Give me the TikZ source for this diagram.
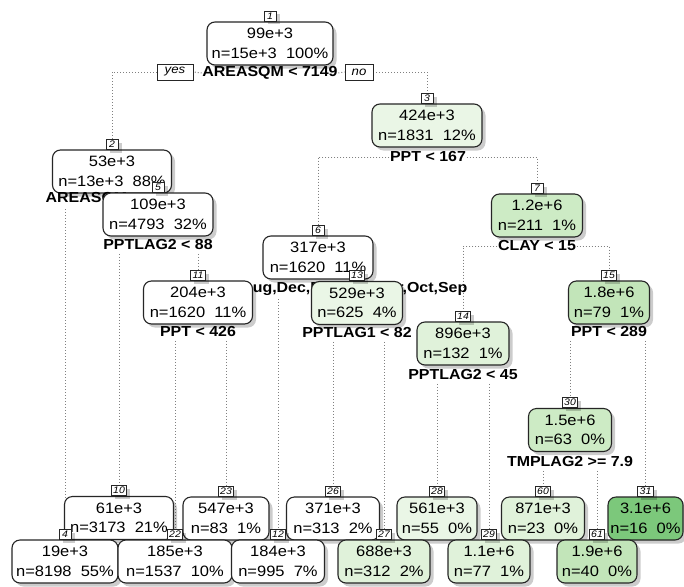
\documentclass[tikz,border=0pt]{standalone}
\usepackage{fontspec}
\setmainfont{Liberation Sans}[FakeStretch=1.1]
\usetikzlibrary{calc}
\definecolor{g1}{HTML}{EAF6E6}
\definecolor{g2}{HTML}{E0F2DA}
\definecolor{g3}{HTML}{CDEBC5}
\definecolor{g4}{HTML}{C2E5B9}
\definecolor{g5}{HTML}{7CC87B}
\definecolor{conncol}{HTML}{808080}
\pgfdeclarelayer{back}\pgfdeclarelayer{bg}\pgfsetlayers{back,bg,main}
\begin{document}
\begin{tikzpicture}[x=1pt,y=-1pt,
 shad/.style={preaction={fill=black, opacity=0.2, transform canvas={xshift=3.5pt,yshift=-3.5pt}}},
 box/.style={draw=black!85, line width=1.1pt, rounded corners=8pt, minimum height=43pt, inner sep=0pt, align=center, font=\fontsize{15}{19.5}\selectfont, shad},
 numlab/.style={draw=black!85, fill=white, line width=0.9pt, inner xsep=2pt, inner ysep=0.5pt, minimum width=12pt, minimum height=10pt, font=\fontsize{9.5}{9.5}\itshape\selectfont, anchor=south, shad},
 splitlab/.style={font=\fontsize{14.5}{15}\bfseries\selectfont, inner sep=0.5pt},
 yn/.style={draw=black!85, fill=white, line width=0.9pt, font=\fontsize{12}{12}\itshape\selectfont, inner xsep=3pt, inner ysep=1pt, minimum height=16pt},
 conn/.style={draw=conncol, dotted, line width=1pt}
]
\useasboundingbox (0,0) rectangle (684,586);
\begin{pgfonlayer}{back}
\fill[white] (0,0) rectangle (684,586);
\end{pgfonlayer}

% level 1
\node[box, fill=white, minimum width=126pt] (n1) at (270,43.5) {99e+3\\n=15e+3\ \ 100\%};
\node[numlab] (l1) at (n1.north) {1};
\node[splitlab] (s1) at (270,73) {AREASQM < 7149};
\node[yn, minimum width=36pt] (yes) at (175,72) {yes};
\node[yn, minimum width=28pt] (no) at (359,72) {no};

% node 2
\node[box, fill=white, minimum width=119pt] (n2) at (112,171.5) {53e+3\\n=13e+3\ \ 88\%};
\node[numlab] (l2) at (n2.north) {2};
\node[splitlab, anchor=west] (s2) at (45,199) {AREASQM};

% node 3
\node[box, fill=g1, minimum width=110pt] (n3) at (427,125.5) {424e+3\\n=1831\ \ 12\%};
\node[numlab] (l3) at (n3.north) {3};
\node[splitlab] (s3) at (428,157) {PPT < 167};

% node 5
\node[box, fill=white, minimum width=110pt] (n5) at (158,214.5) {109e+3\\n=4793\ \ 32\%};
\node[numlab] (l5) at (n5.north) {5};
\node[splitlab] (s5) at (158,245) {PPTLAG2 < 88};

% node 6
\node[box, fill=white, minimum width=110pt] (n6) at (318,257.5) {317e+3\\n=1620\ \ 11\%};
\node[numlab] (l6) at (n6.north) {6};
\node[splitlab, anchor=east] (s6) at (468,289) {Aug,Dec,Feb,Jan,Mar,Oct,Sep};

% node 7
\node[box, fill=g3, minimum width=91pt] (n7) at (537,215.5) {1.2e+6\\n=211\ \ 1\%};
\node[numlab] (l7) at (n7.north) {7};
\node[splitlab] (s7) at (537,246) {CLAY < 15};

% node 11
\node[box, fill=white, minimum width=109pt] (n11) at (198,302.5) {204e+3\\n=1620\ \ 11\%};
\node[numlab] (l11) at (n11.north) {11};
\node[splitlab] (s11) at (198,332) {PPT < 426};

% node 13
\node[box, fill=g1, minimum width=91pt] (n13) at (357,303) {529e+3\\n=625\ \ 4\%};
\node[numlab] (l13) at (n13.north) {13};
\node[splitlab] (s13) at (357,333) {PPTLAG1 < 82};

% node 14
\node[box, fill=g2, minimum width=92pt] (n14) at (463,343.5) {896e+3\\n=132\ \ 1\%};
\node[numlab] (l14) at (n14.north) {14};
\node[splitlab] (s14) at (463,375) {PPTLAG2 < 45};

% node 15
\node[box, fill=g4, minimum width=81pt] (n15) at (609,302.5) {1.8e+6\\n=79\ \ 1\%};
\node[numlab] (l15) at (n15.north) {15};
\node[splitlab] (s15) at (609,332) {PPT < 289};

% node 30
\node[box, fill=g3, minimum width=83pt] (n30) at (570,430) {1.5e+6\\n=63\ \ 0\%};
\node[numlab] (l30) at (n30.north) {30};
\node[splitlab] (s30) at (570,462) {TMPLAG2 >= 7.9};

% upper row of leaves
\node[box, fill=white, minimum width=109pt] (n10) at (119,518) {61e+3\\n=3173\ \ 21\%};
\node[numlab] (l10) at (n10.north) {10};
\node[box, fill=white, minimum width=86pt] (n23) at (226,518.5) {547e+3\\n=83\ \ 1\%};
\node[numlab] (l23) at (n23.north) {23};
\node[box, fill=white, minimum width=93pt] (n26) at (333,518.5) {371e+3\\n=313\ \ 2\%};
\node[numlab] (l26) at (n26.north) {26};
\node[box, fill=g1, minimum width=80pt] (n28) at (437,518.5) {561e+3\\n=55\ \ 0\%};
\node[numlab] (l28) at (n28.north) {28};
\node[box, fill=g2, minimum width=83pt] (n60) at (543,518.5) {871e+3\\n=23\ \ 0\%};
\node[numlab] (l60) at (n60.north) {60};
\node[box, fill=g5, minimum width=75pt] (n31) at (645.5,518.5) {3.1e+6\\n=16\ \ 0\%};
\node[numlab] (l31) at (n31.north) {31};

% lower row of leaves
\node[box, fill=white, minimum width=106pt] (n4) at (65,561.5) {19e+3\\n=8198\ \ 55\%};
\node[numlab] (l4) at (n4.north) {4};
\node[box, fill=white, minimum width=114pt] (n22) at (175,561.5) {185e+3\\n=1537\ \ 10\%};
\node[numlab] (l22) at (n22.north) {22};
\node[box, fill=white, minimum width=93pt] (n12) at (278,561.5) {184e+3\\n=995\ \ 7\%};
\node[numlab] (l12) at (n12.north) {12};
\node[box, fill=g2, minimum width=92pt] (n27) at (384,561.5) {688e+3\\n=312\ \ 2\%};
\node[numlab] (l27) at (n27.north) {27};
\node[box, fill=g2, minimum width=82pt] (n29) at (489,561.5) {1.1e+6\\n=77\ \ 1\%};
\node[numlab] (l29) at (n29.north) {29};
\node[box, fill=g4, minimum width=80pt] (n61) at (597,561.5) {1.9e+6\\n=40\ \ 0\%};
\node[numlab] (l61) at (n61.north) {61};

\begin{pgfonlayer}{bg}
\draw[conn] (s1.west) -- (yes.east);
\draw[conn] (yes.west) -| (l2.north);
\draw[conn] (s1.east) -- (no.west);
\draw[conn] (no.east) -| (l3.north);
\draw[conn] ([yshift=-3pt]s2.south -| l4.north) -- (l4.north);
\draw[conn] (s2.south -| l5.north) -- (l5.north);
\draw[conn] (s3.west) -| (l6.north);
\draw[conn] (s3.east) -| (l7.north);
\draw[conn] ([yshift=-3pt]s5.south -| l10.north) -- (l10.north);
\draw[conn] ([yshift=-3pt]s5.south -| l11.north) -- (l11.north);
\draw[conn] ([yshift=-3pt]s6.south -| l12.north) -- (l12.north);
\draw[conn] (s6.south -| l13.north) -- (l13.north);
\draw[conn] (s7.west) -| (l14.north);
\draw[conn] (s7.east) -| (l15.north);
\draw[conn] ([yshift=-3pt]s11.south -| l22.north) -- (l22.north);
\draw[conn] ([yshift=-3pt]s11.south -| l23.north) -- (l23.north);
\draw[conn] ([yshift=-3pt]s13.south -| l26.north) -- (l26.north);
\draw[conn] ([yshift=-3pt]s13.south -| l27.north) -- (l27.north);
\draw[conn] ([yshift=-3pt]s14.south -| l28.north) -- (l28.north);
\draw[conn] ([yshift=-3pt]s14.south -| l29.north) -- (l29.north);
\draw[conn] ([yshift=-3pt]s15.south -| l30.north) -- (l30.north);
\draw[conn] ([yshift=-3pt]s15.south -| l31.north) -- (l31.north);
\draw[conn] ([yshift=-3pt]s30.south -| l60.north) -- (l60.north);
\draw[conn] ([yshift=-3pt]s30.south -| l61.north) -- (l61.north);
\end{pgfonlayer}
\end{tikzpicture}
\end{document}
